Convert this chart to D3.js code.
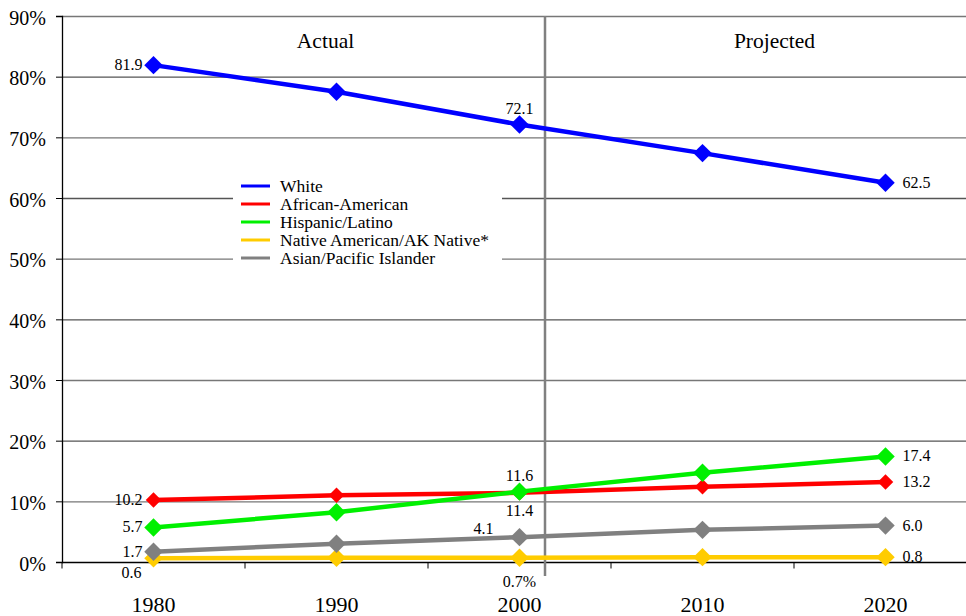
<!DOCTYPE html>
<html><head><meta charset="utf-8">
<script src="https://cdn.jsdelivr.net/npm/d3@7/dist/d3.min.js"></script>
<style>body{margin:0;background:#fff}svg{display:block}svg text{font-family:"Liberation Serif","Times New Roman",Times,serif !important;fill:#000}</style>
</head><body><svg id="c" width="966" height="616"></svg>
<script>
const years = ["1980","1990","2000","2010","2020"];
const seriesNames = ["White","African-American","Hispanic/Latino","Native American/AK Native*","Asian/Pacific Islander"];
const white = [81.9,77.5,72.1,67.4,62.5];
const african = [10.2,11.0,11.4,12.4,13.2];
const hispanic = [5.7,8.2,11.6,14.7,17.4];
const native = [0.6,0.7,0.7,0.8,0.8];
const asian = [1.7,3.0,4.1,5.3,6.0];
const yTicks = [0,10,20,30,40,50,60,70,80,90];
const periodLabels = ["Actual","Projected"];
// point labels: [seriesIndex, yearIndex, text, placement]
const pointLabels = [
  [0,0,"81.9","left"],[0,2,"72.1","above"],[0,4,"62.5","right"],
  [1,0,"10.2","left"],[1,2,"11.4","below"],[1,4,"13.2","right"],
  [2,0,"5.7","left"],[2,2,"11.6","above"],[2,4,"17.4","right"],
  [3,0,"0.6","belowleft"],[3,2,"0.7%","below"],[3,4,"0.8","right"],
  [4,0,"1.7","left"],[4,2,"4.1","aboveleft"],[4,4,"6.0","right"]
];

const colors = ["#0000FF","#FF0000","#00F000","#FFCC00","#808080"];
const markerSizes = [170,120,170,170,170];
const allSeries = [white,african,hispanic,native,asian];

const svg = d3.select("#c");
const mL=62, mT=16, mB=562, mR=966;
const x = d3.scaleBand().domain(years).range([mL, mL+5*183]);
const y = d3.scaleLinear().domain([0,90]).range([mB, mT]);
const cx = d => x(d)+x.bandwidth()/2;

// gridlines
svg.append("g").selectAll("line").data(yTicks.filter(t=>t>0)).join("line")
  .attr("x1",mL).attr("x2",mR).attr("y1",d=>y(d)+0.5).attr("y2",d=>y(d)+0.5)
  .attr("stroke",(d,i)=>i%2? "#555":"#777").attr("stroke-width",1.3);

// y axis
const ya = svg.append("g").attr("transform",`translate(${mL},0)`)
  .call(d3.axisLeft(y).tickValues(yTicks).tickFormat(d=>d+"%").tickSize(6).tickPadding(10));
ya.select(".domain").attr("stroke","#000").attr("stroke-width",1.3);
ya.selectAll(".tick line").attr("stroke","#000");
ya.selectAll("text").attr("font-size",20).attr("dy","0.4em");

// x axis
const xa = svg.append("g").attr("transform",`translate(0,${mB+0.5})`)
  .call(d3.axisBottom(x).tickSize(0).tickPadding(34));
xa.select(".domain").remove();
xa.append("line").attr("x1",mL).attr("x2",mR).attr("stroke","#000").attr("stroke-width",1.3);
xa.selectAll(".bt").data(d3.range(6)).join("line").attr("class","bt")
  .attr("x1",i=>mL+i*x.step()).attr("x2",i=>mL+i*x.step()).attr("y1",0).attr("y2",6).attr("stroke","#000");
xa.selectAll("text").attr("font-size",22);

// divider
const divX = 545;
svg.append("line").attr("x1",divX).attr("x2",divX).attr("y1",mT).attr("y2",mB+14)
  .attr("stroke","#808080").attr("stroke-width",2.5);

// period labels
svg.selectAll(".pl").data(periodLabels).join("text").attr("class","pl")
  .attr("x",(d,i)=> i===0 ? (mL+divX)/2+22 : (divX+mR)/2+19)
  .attr("y",48).attr("text-anchor","middle").attr("font-size",21.5).text(d=>d);

// legend
const lg = svg.append("g");
lg.append("rect").attr("x",233).attr("y",172).attr("width",269).attr("height",96).attr("fill","#fff");
seriesNames.forEach((n,i)=>{
  const yy = 186 + i*18;
  lg.append("line").attr("x1",241).attr("x2",270).attr("y1",yy).attr("y2",yy).attr("stroke",colors[i]).attr("stroke-width",3);
  lg.append("text").attr("x",280).attr("y",yy+5.5).attr("font-size",17.5).text(n);
});

// lines
const line = d3.line().x((d,i)=>cx(years[i])).y(d=>y(d));
const order = [3,4,1,2,0];
order.forEach(s=>{
  svg.append("path").datum(allSeries[s]).attr("d",line).attr("fill","none")
    .attr("stroke",colors[s]).attr("stroke-width",4.5).attr("stroke-linejoin","round");
  svg.append("g").selectAll("path").data(allSeries[s]).join("path")
    .attr("d",d3.symbol(d3.symbolSquare, markerSizes[s]))
    .attr("transform",(d,i)=>`translate(${cx(years[i])},${y(d)}) rotate(45)`)
    .attr("fill",colors[s]);
});

// point labels
pointLabels.forEach(([s,yi,t,p])=>{
  const px = cx(years[yi]), py = y(allSeries[s][yi]);
  let tx=px, ty=py+5, anchor="middle";
  if(p==="left"){tx=px-11; anchor="end";}
  else if(p==="right"){tx=px+17; anchor="start";}
  else if(p==="above"){ty=py-11;}
  else if(p==="below"){ty=py+23;}
  else if(p==="belowleft"){tx=px-22; ty=py+20;}
  else if(p==="aboveleft"){tx=px-36; ty=py-3;}
  if(t==="0.7%"){ty=py+29;}
  svg.append("text").attr("x",tx).attr("y",ty).attr("text-anchor",anchor).attr("font-size",16).text(t);
});
</script></body></html>
